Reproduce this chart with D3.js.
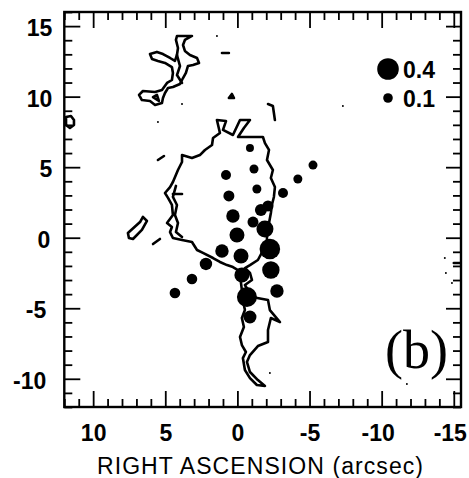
<!DOCTYPE html>
<html>
<head>
<meta charset="utf-8">
<script src="https://cdn.jsdelivr.net/npm/d3@7"></script>
<style>
  html, body { margin: 0; padding: 0; background: #fff; }
  svg { display: block; }
</style>
</head>
<body>
<svg id="chart" width="469" height="478"></svg>
<script>
// ---------------- DATA ----------------
const xTickLabels = [10, 5, 0, -5, -10, -15];
const yTickLabels = [15, 10, 5, 0, -5, -10];
const legendValues = [0.4, 0.1];

// polarization points: RA offset (arcsec), Dec offset (arcsec), value
const pointRA  = [-0.87, 0.79, -1.15, -5.24, -4.19, 0.59, -1.35, -3.16, -1.63, -2.12, 0.31, -1.08, -1.91, 0.03, -2.25, 1.07, -0.25, 2.18, -2.32, 3.15, -0.31, -2.74, 4.33, -0.66, -0.87];
const pointDec = [6.36, 4.45, 4.87, 5.15, 4.16, 2.96, 3.45, 3.17, 1.96, 2.25, 1.54, 1.11, 0.62, 0.19, -0.80, -0.94, -1.30, -1.86, -2.29, -2.93, -2.64, -3.78, -3.92, -4.20, -5.62];
const pointVal = [0.06, 0.11, 0.085, 0.085, 0.085, 0.135, 0.085, 0.11, 0.16, 0.135, 0.195, 0.135, 0.285, 0.235, 0.375, 0.195, 0.235, 0.17, 0.295, 0.125, 0.235, 0.195, 0.125, 0.36, 0.185];

// closed contour loops [RA, Dec]
const contourMain = [[1.42,8.34],[0.79,8.27],[1.00,7.64],[0.31,7.28],[-0.18,8.34],[-0.87,8.34],[-0.45,7.78],[-0.04,7.14],[-1.08,7.14],[-1.77,7.14],[-1.91,6.71],[-2.19,6.22],[-2.05,5.51],[-2.46,4.80],[-2.32,4.23],[-2.60,3.59],[-2.53,2.89],[-2.39,2.32],[-2.32,1.75],[-2.19,1.04],[-2.05,0.33],[-2.05,-0.38],[-1.42,-1.58],[-0.87,-1.94],[-0.52,-2.15],[-0.87,-2.50],[-1.01,-3.00],[-0.52,-3.35],[-1.01,-4.20],[-2.12,-4.42],[-2.25,-5.13],[-2.95,-5.98],[-2.32,-5.69],[-2.12,-6.54],[-2.12,-7.39],[-1.42,-7.68],[-0.87,-8.32],[-0.66,-8.81],[-0.87,-9.52],[-1.42,-10.09],[-1.91,-10.51],[-1.35,-10.44],[-0.87,-9.95],[-0.52,-9.38],[-0.38,-8.53],[-0.59,-8.10],[-0.31,-7.61],[-0.18,-7.04],[-0.45,-6.33],[-0.31,-5.69],[-0.52,-5.13],[-0.38,-4.42],[-0.31,-3.71],[-0.18,-2.64],[-0.04,-2.29],[0.31,-2.08],[0.72,-1.94],[1.21,-1.72],[1.69,-1.44],[2.39,-1.08],[2.80,-0.87],[3.15,-0.30],[3.84,-0.16],[4.47,-0.02],[4.67,0.40],[4.54,0.76],[4.88,1.04],[4.47,1.61],[4.54,2.32],[4.81,2.82],[5.02,3.17],[4.67,3.59],[4.47,3.95],[4.12,4.80],[3.84,5.37],[3.84,5.86],[3.15,5.65],[2.60,5.86],[2.25,6.22],[1.76,6.57],[1.69,7.07],[1.21,7.42]];
const contourCloud = [[6.06,13.02],[5.58,13.17],[5.16,13.02],[4.67,12.74],[4.33,12.53],[4.19,12.95],[4.12,13.45],[4.26,14.02],[4.19,14.30],[3.15,14.30],[3.64,14.02],[3.77,13.66],[3.64,13.24],[3.29,12.95],[2.80,12.74],[2.66,12.39],[3.08,12.24],[3.43,12.17],[3.57,11.68],[3.77,11.32],[3.98,10.90],[4.47,10.68],[4.81,10.61],[5.02,10.26],[5.16,9.90],[5.23,9.55],[5.71,9.41],[6.06,9.69],[6.62,9.76],[6.82,10.12],[6.55,10.40],[5.71,10.33],[5.23,10.47],[4.88,10.97],[4.54,11.18],[4.47,11.68],[4.54,12.10],[5.02,12.39],[5.51,12.53],[5.92,12.67]];
const contourDiamond = [[7.59,0.33],[6.75,1.11],[6.55,1.47],[6.27,1.19],[6.62,0.55],[7.24,-0.09],[7.52,-0.02]];
const contourEdgeLoop = [[11.88,8.56],[11.54,8.63],[11.33,8.34],[11.33,7.99],[11.61,7.78],[11.88,7.99]];
const contourCloudSmall = [[5.85,9.97],[5.58,10.12],[5.44,9.69]];
const contourTick = [[0.59,9.90],[0.38,10.19],[0.24,9.90]];

// open contour fragments
const fragInner = [[4.26,3.67],[4.47,2.89],[4.19,2.32],[4.33,1.61],[4.12,1.04],[4.26,0.40],[3.84,0.05]];
const fragCloudInner = [[4.19,12.95],[3.98,12.17],[4.19,11.53],[3.84,10.97]];
const fragA = [[5.85,-0.45],[5.37,-0.09]];
const fragB = [[5.51,5.51],[5.09,5.79]];
const fragC = [[4.47,3.10],[3.84,3.10]];
const fragD = [[-2.12,9.48],[-2.46,9.34],[-2.53,8.84],[-2.60,8.34]];
const fragE = [[1.07,13.09],[0.59,13.09]];
const fragF = [[-15.0,-1.79],[-15.5,-1.79]];

// stray specks
const speckRA  = [1.42, 5.51, 3.84, -7.31, -2.25, -11.75, -14.38, -14.45, -14.87];
const speckDec = [14.30, 8.20, 9.48, 9.34, -9.59, -10.37, -1.44, -2.50, -3.21];

// ---------------- CHART ----------------
const svg = d3.select("#chart");
const L = 64.3, R = 461, T = 12, B = 407;
const x = d3.scaleLinear().domain([12, -15.5]).range([L, R]);
const y = d3.scaleLinear().domain([-12, 16]).range([B, T]);
const r = d3.scaleLinear().domain([0, 0.4]).range([2.8, 10.8]);

const xMinor = d3.range(-15, 13).filter(v => v % 5 !== 0);
const yMinor = d3.range(-12, 17).filter(v => v % 5 !== 0);

const plot = svg.append("g");
plot.append("clipPath").attr("id", "clip").append("rect")
  .attr("x", L).attr("y", T).attr("width", R - L).attr("height", B - T);
const inner = plot.append("g").attr("clip-path", "url(#clip)");

const lineOpen = d3.line().x(d => x(d[0])).y(d => y(d[1]));
const lineClosed = d3.line().x(d => x(d[0])).y(d => y(d[1])).curve(d3.curveLinearClosed);
const SW = 2.6;

[contourMain, contourCloud, contourDiamond, contourEdgeLoop, contourCloudSmall, contourTick].forEach(c => {
  inner.append("path").attr("d", lineClosed(c))
    .attr("fill", "none").attr("stroke", "#000").attr("stroke-width", SW)
    .attr("stroke-linejoin", "round");
});
[fragInner, fragCloudInner, fragA, fragB, fragC, fragD, fragE, fragF].forEach(c => {
  inner.append("path").attr("d", lineOpen(c))
    .attr("fill", "none").attr("stroke", "#000").attr("stroke-width", SW)
    .attr("stroke-linejoin", "round").attr("stroke-linecap", "round");
});

inner.selectAll("circle.speck").data(speckRA.map((v, i) => [v, speckDec[i]]))
  .join("circle").attr("class", "speck")
  .attr("cx", d => x(d[0])).attr("cy", d => y(d[1])).attr("r", 1).attr("fill", "#000");

inner.selectAll("circle.pt").data(pointRA.map((v, i) => ({ra: v, dec: pointDec[i], v: pointVal[i]})))
  .join("circle").attr("class", "pt")
  .attr("cx", d => x(d.ra)).attr("cy", d => y(d.dec)).attr("r", d => r(d.v)).attr("fill", "#000");

// axes
const fmt = d => String(d);
function styleAxis(g) {
  g.select(".domain").remove();
  g.selectAll(".tick line").attr("stroke", "#000").attr("stroke-width", 1.8);
}
const labelFont = "'Liberation Sans', Arial, Helvetica, sans-serif";

svg.append("g").attr("transform", `translate(0,${B})`)
  .call(d3.axisBottom(x).tickValues(xTickLabels).tickSize(-16).tickPadding(18).tickFormat(fmt))
  .call(styleAxis)
  .call(g => g.selectAll("text").attr("font-family", labelFont).attr("font-weight", "bold")
    .attr("font-size", 23).attr("fill", "#000").attr("dx", d => d <= -10 ? -4 : 0));
svg.append("g").attr("transform", `translate(0,${B})`)
  .call(d3.axisBottom(x).tickValues(xMinor).tickSize(-8).tickFormat(""))
  .call(styleAxis);

svg.append("g").attr("transform", `translate(0,${T})`)
  .call(d3.axisTop(x).tickValues(xTickLabels).tickSize(-16).tickFormat(""))
  .call(styleAxis);
svg.append("g").attr("transform", `translate(0,${T})`)
  .call(d3.axisTop(x).tickValues(xMinor).tickSize(-8).tickFormat(""))
  .call(styleAxis);

svg.append("g").attr("transform", `translate(${L},0)`)
  .call(d3.axisLeft(y).tickValues(yTickLabels).tickSize(-16).tickPadding(12).tickFormat(fmt))
  .call(styleAxis)
  .call(g => g.selectAll("text").attr("font-family", labelFont).attr("font-weight", "bold")
    .attr("font-size", 23).attr("fill", "#000").attr("dy", "0.42em")
    .attr("dx", d => d < 0 ? -6 : (d === 0 ? -2 : 0)));
svg.append("g").attr("transform", `translate(${L},0)`)
  .call(d3.axisLeft(y).tickValues(yMinor).tickSize(-8).tickFormat(""))
  .call(styleAxis);

svg.append("g").attr("transform", `translate(${R},0)`)
  .call(d3.axisRight(y).tickValues(yTickLabels).tickSize(-15).tickFormat(""))
  .call(styleAxis);
svg.append("g").attr("transform", `translate(${R},0)`)
  .call(d3.axisRight(y).tickValues(yMinor).tickSize(-8).tickFormat(""))
  .call(styleAxis);

// frame
svg.append("rect").attr("x", L).attr("y", T).attr("width", R - L).attr("height", B - T)
  .attr("fill", "none").attr("stroke", "#000").attr("stroke-width", 2.4);

// axis title
svg.append("text").attr("x", 260).attr("y", 474).attr("text-anchor", "middle")
  .attr("font-family", labelFont).attr("font-size", 23).attr("fill", "#000")
  .attr("textLength", 326).attr("lengthAdjust", "spacing")
  .text("RIGHT ASCENSION (arcsec)");

// legend
const legendY = [69, 98];
const lg = svg.append("g");
legendValues.forEach((v, i) => {
  lg.append("circle").attr("cx", 388).attr("cy", legendY[i]).attr("r", r(v)).attr("fill", "#000");
  lg.append("text").attr("x", 403).attr("y", legendY[i] + 9).attr("font-family", labelFont)
    .attr("font-weight", "bold").attr("font-size", 23).attr("fill", "#000").text(String(v));
});

// panel label
svg.append("text").attr("x", 385).attr("y", 368)
  .attr("font-family", "'Liberation Serif', 'Times New Roman', serif")
  .attr("font-size", 54).attr("fill", "#000").text("(b)");
</script>
</body>
</html>
